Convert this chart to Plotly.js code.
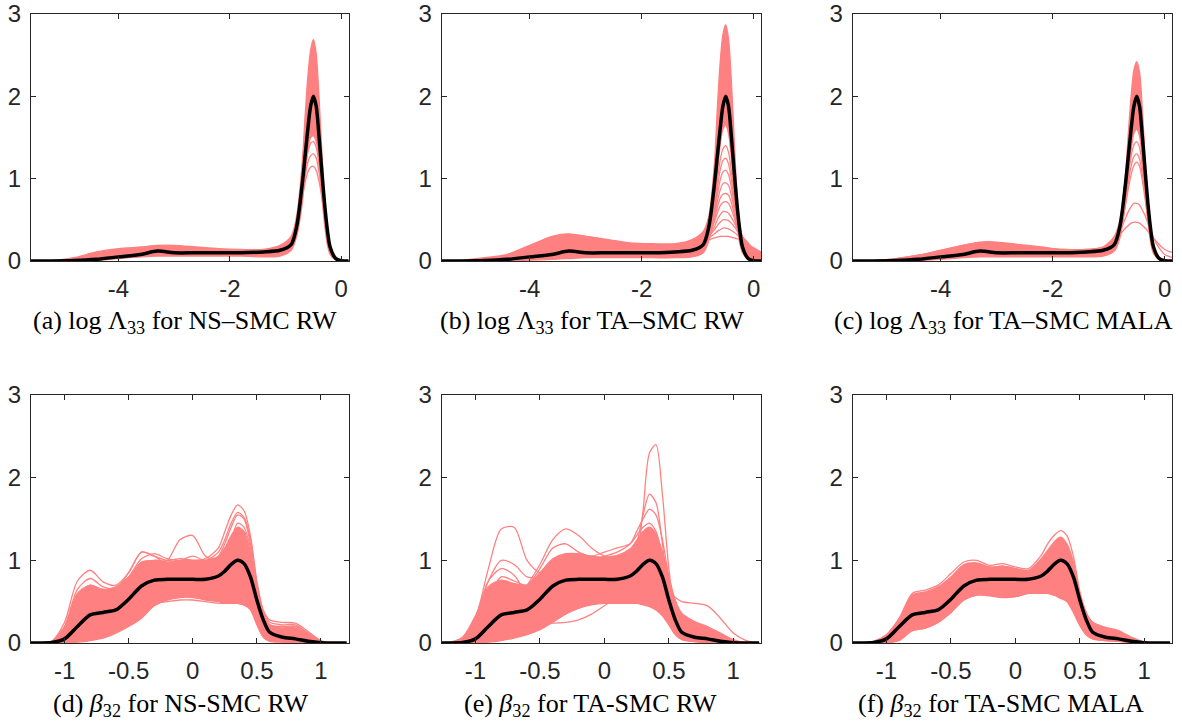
<!DOCTYPE html>
<html>
<head>
<meta charset="utf-8">
<script src="https://cdn.plot.ly/plotly-3.0.1.min.js"></script>
<style>html,body{margin:0;padding:0;background:#fff;}#chart{width:1182px;height:724px;}</style>
</head>
<body>
<div id="chart"></div>
<script>
// ---------- grids ----------
const gridLogLam = [-5.6,-5.2,-4.8,-4.4,-4.0,-3.6,-3.3,-3.0,-2.6,-2.2,-1.8,-1.4,-1.1,-0.9,-0.8,-0.7,-0.65,-0.6,-0.55,-0.5,-0.45,-0.4,-0.35,-0.3,-0.25,-0.2,-0.1,0,0.15];
const gridBeta = [-1.3,-1.2,-1.1,-1.0,-0.9,-0.8,-0.7,-0.6,-0.5,-0.4,-0.3,-0.2,-0.1,0,0.1,0.2,0.25,0.3,0.35,0.4,0.45,0.5,0.55,0.6,0.7,0.8,0.9,1.0,1.1,1.2];

// ---------- reference (black) densities ----------
const truthLogLam = [0,0,0.005,0.02,0.05,0.08,0.12,0.1,0.1,0.1,0.1,0.11,0.13,0.2,0.42,0.94,1.27,1.6,1.88,2.0,1.88,1.52,1.1,0.7,0.38,0.17,0.03,0.003,0];
const truthBeta = [0,0,0.005,0.05,0.2,0.34,0.37,0.40,0.53,0.69,0.76,0.77,0.77,0.77,0.77,0.81,0.87,0.95,1.0,0.96,0.8,0.52,0.28,0.13,0.07,0.05,0.02,0.003,0,0];

// ---------- (a) NS-SMC RW, log Lambda33 ----------
const aLow = [0,0,0,0.005,0.03,0.05,0.06,0.06,0.06,0.06,0.06,0.05,0.06,0.13,0.3,0.7,1.05,1.35,1.5,1.52,1.45,1.2,0.8,0.45,0.2,0.08,0.01,0,0];
const aHigh = [0,0.005,0.04,0.11,0.15,0.17,0.19,0.19,0.17,0.15,0.14,0.14,0.19,0.3,0.55,1.2,1.75,2.24,2.56,2.69,2.52,2.0,1.35,0.78,0.42,0.19,0.05,0.01,0];
const aRun1 = [0,0,0.01,0.03,0.06,0.1,0.13,0.14,0.13,0.12,0.12,0.12,0.16,0.28,0.5,0.78,0.95,1.08,1.14,1.15,1.1,0.97,0.78,0.55,0.33,0.17,0.04,0.01,0];
const aRun2 = [0,0,0.01,0.03,0.06,0.1,0.12,0.13,0.12,0.12,0.12,0.12,0.15,0.25,0.45,0.8,1.02,1.2,1.28,1.3,1.25,1.08,0.85,0.58,0.33,0.16,0.03,0.005,0];
const aRun3 = [0,0,0.01,0.03,0.06,0.1,0.12,0.13,0.12,0.12,0.12,0.12,0.15,0.24,0.42,0.82,1.1,1.32,1.43,1.45,1.38,1.18,0.9,0.6,0.34,0.16,0.03,0.005,0];

// ---------- (b) TA-SMC RW, log Lambda33 ----------
const bLow = [0,0,0,0,0.01,0.02,0.03,0.04,0.04,0.04,0.04,0.04,0.05,0.1,0.25,0.65,1.05,1.4,1.6,1.65,1.55,1.25,0.8,0.45,0.22,0.1,0.02,0.005,0];
const bHigh = [0,0.01,0.04,0.08,0.19,0.3,0.33,0.3,0.26,0.22,0.21,0.21,0.26,0.36,0.55,1.2,1.85,2.4,2.75,2.87,2.7,2.2,1.5,0.85,0.45,0.3,0.22,0.15,0.1];
const bRun1 = [0,0.005,0.03,0.07,0.17,0.28,0.32,0.3,0.25,0.21,0.2,0.2,0.22,0.24,0.26,0.28,0.29,0.3,0.3,0.3,0.3,0.29,0.28,0.27,0.26,0.24,0.2,0.16,0.1];
const bRun2 = [0,0.005,0.03,0.06,0.15,0.25,0.29,0.28,0.24,0.2,0.19,0.19,0.21,0.24,0.28,0.33,0.36,0.38,0.4,0.4,0.39,0.37,0.35,0.32,0.29,0.25,0.19,0.14,0.08];
const bRun3 = [0,0.004,0.025,0.05,0.13,0.22,0.26,0.25,0.22,0.19,0.18,0.18,0.2,0.24,0.3,0.38,0.43,0.47,0.5,0.5,0.49,0.46,0.42,0.37,0.32,0.26,0.18,0.12,0.06];
const bRun4 = [0,0.003,0.02,0.045,0.12,0.2,0.23,0.22,0.2,0.17,0.16,0.16,0.18,0.22,0.3,0.42,0.5,0.56,0.6,0.6,0.58,0.53,0.47,0.4,0.32,0.25,0.16,0.1,0.05];
const bRun5 = [0,0.003,0.02,0.04,0.1,0.17,0.2,0.2,0.18,0.16,0.15,0.15,0.17,0.21,0.3,0.48,0.58,0.67,0.71,0.72,0.7,0.63,0.53,0.42,0.32,0.23,0.13,0.07,0.03];
const bRun6 = [0,0.002,0.015,0.035,0.09,0.15,0.18,0.17,0.16,0.14,0.13,0.13,0.15,0.2,0.3,0.55,0.72,0.86,0.94,0.95,0.92,0.8,0.64,0.47,0.32,0.2,0.09,0.04,0.02];
const bRun7 = [0,0.002,0.012,0.03,0.08,0.13,0.16,0.16,0.15,0.13,0.12,0.12,0.14,0.19,0.3,0.58,0.8,0.98,1.08,1.1,1.05,0.9,0.7,0.5,0.32,0.19,0.07,0.03,0.01];
const bRun8 = [0,0.002,0.01,0.03,0.07,0.12,0.15,0.15,0.14,0.12,0.11,0.11,0.13,0.18,0.3,0.62,0.88,1.1,1.22,1.25,1.18,1.0,0.75,0.52,0.32,0.18,0.06,0.02,0.01];
const bRun9 = [0,0.002,0.01,0.03,0.07,0.11,0.14,0.14,0.13,0.11,0.1,0.1,0.12,0.17,0.3,0.66,0.96,1.22,1.36,1.4,1.32,1.1,0.8,0.53,0.31,0.17,0.05,0.015,0.005];
const bRun10 = [0,0.002,0.017,0.038,0.095,0.16,0.19,0.18,0.17,0.15,0.14,0.14,0.16,0.2,0.3,0.52,0.65,0.76,0.81,0.82,0.8,0.71,0.58,0.44,0.32,0.21,0.11,0.05,0.02];

// ---------- (c) TA-SMC MALA, log Lambda33 ----------
const cLow = [0,0,0,0.005,0.02,0.04,0.05,0.05,0.05,0.05,0.05,0.05,0.06,0.12,0.28,0.7,1.05,1.35,1.55,1.6,1.52,1.25,0.85,0.48,0.22,0.09,0.015,0.002,0];
const cHigh = [0,0.005,0.03,0.07,0.13,0.19,0.23,0.23,0.2,0.17,0.14,0.14,0.17,0.3,0.5,1.05,1.55,2.0,2.32,2.42,2.3,1.85,1.25,0.72,0.38,0.18,0.05,0.01,0];
const cRun1 = [0,0.005,0.03,0.07,0.13,0.19,0.22,0.22,0.19,0.16,0.14,0.14,0.17,0.25,0.32,0.4,0.43,0.46,0.47,0.47,0.46,0.43,0.4,0.36,0.32,0.28,0.2,0.14,0.1];
const cRun2 = [0,0.004,0.025,0.06,0.12,0.17,0.2,0.2,0.18,0.15,0.13,0.13,0.16,0.25,0.36,0.52,0.6,0.66,0.7,0.7,0.68,0.62,0.55,0.46,0.37,0.28,0.16,0.08,0.04];
const cRun3 = [0,0.003,0.02,0.05,0.1,0.14,0.16,0.16,0.15,0.13,0.12,0.12,0.15,0.24,0.38,0.68,0.88,1.05,1.16,1.2,1.15,0.98,0.75,0.5,0.3,0.16,0.04,0.01,0];
const cRun4 = [0,0.003,0.02,0.05,0.1,0.13,0.15,0.15,0.14,0.12,0.11,0.11,0.14,0.22,0.36,0.7,0.95,1.15,1.27,1.3,1.24,1.05,0.8,0.52,0.3,0.15,0.04,0.01,0];
const cRun5 = [0,0.003,0.02,0.05,0.09,0.12,0.14,0.14,0.13,0.11,0.1,0.1,0.13,0.21,0.35,0.74,1.03,1.27,1.41,1.45,1.38,1.15,0.85,0.54,0.3,0.14,0.03,0.01,0];

// ---------- (d) NS-SMC RW, beta32 ----------
const dLow = [0,0,0,0,0.01,0.03,0.06,0.12,0.2,0.3,0.45,0.52,0.55,0.55,0.52,0.5,0.48,0.48,0.48,0.46,0.4,0.22,0.07,0.02,0.01,0,0,0,0,0];
const dHigh = [0,0,0.02,0.2,0.6,0.7,0.65,0.68,0.8,0.98,1.0,0.98,1.0,1.0,1.0,1.05,1.15,1.3,1.4,1.35,1.1,0.7,0.35,0.22,0.18,0.18,0.1,0.02,0,0];
const dRun1 = [0,0,0.02,0.25,0.75,0.88,0.74,0.7,0.85,1.1,1.05,1.0,1.02,1.0,1.02,1.15,1.35,1.55,1.67,1.6,1.3,0.75,0.4,0.28,0.25,0.24,0.14,0.03,0,0];
const dRun2 = [0,0,0.01,0.1,0.4,0.6,0.6,0.62,0.75,0.95,1.0,1.0,1.25,1.3,1.05,1.0,1.05,1.2,1.3,1.25,1.0,0.6,0.3,0.2,0.2,0.18,0.08,0.01,0,0];
const dRun3 = [0,0,0.01,0.15,0.55,0.7,0.62,0.65,0.85,1.1,1.05,0.95,0.95,0.98,0.95,1.0,1.1,1.25,1.45,1.4,1.15,0.7,0.35,0.22,0.2,0.2,0.1,0.02,0,0];
const dRun4 = [0,0,0,0.01,0.05,0.1,0.15,0.2,0.3,0.42,0.48,0.5,0.52,0.52,0.5,0.48,0.48,0.48,0.48,0.46,0.42,0.3,0.12,0.04,0.01,0,0,0,0,0];
const dRun5 = [0,0,0,0.02,0.1,0.2,0.3,0.4,0.5,0.55,0.6,0.62,0.65,0.62,0.6,0.6,0.62,0.65,0.7,0.68,0.55,0.35,0.15,0.06,0.03,0.02,0.01,0,0,0];
const dRun6 = [0,0,0.01,0.12,0.45,0.6,0.55,0.58,0.72,0.9,0.95,0.93,0.95,0.98,0.97,1.05,1.2,1.4,1.55,1.5,1.2,0.7,0.35,0.2,0.18,0.2,0.12,0.02,0,0];
const dRun7 = [0,0,0.02,0.2,0.65,0.78,0.68,0.66,0.8,1.02,1.08,1.02,1.0,1.05,1.0,1.1,1.25,1.45,1.58,1.52,1.25,0.72,0.38,0.25,0.22,0.22,0.12,0.02,0,0];

// ---------- (e) TA-SMC RW, beta32 ----------
const eLow = [0,0,0,0,0.01,0.03,0.06,0.1,0.16,0.25,0.35,0.42,0.46,0.48,0.48,0.48,0.48,0.46,0.44,0.4,0.33,0.22,0.1,0.04,0.015,0,0,0,0,0];
const eHigh = [0,0.01,0.07,0.33,0.68,0.76,0.72,0.7,0.85,1.02,1.08,1.08,1.05,1.04,1.06,1.14,1.24,1.35,1.4,1.32,1.1,0.8,0.52,0.36,0.26,0.2,0.12,0.04,0.005,0];
const eRun1 = [0,0,0.05,0.3,0.9,1.38,1.4,1.0,0.85,0.9,0.95,0.9,0.85,0.85,0.9,0.95,1.0,1.05,1.1,1.05,0.9,0.6,0.35,0.2,0.08,0.03,0.01,0,0,0];
const eRun2 = [0,0,0.01,0.1,0.3,0.45,0.5,0.55,0.6,0.7,0.75,0.7,0.65,0.65,0.7,0.8,1.0,1.6,2.3,2.4,1.8,0.9,0.35,0.12,0.04,0.01,0,0,0,0];
const eRun3 = [0,0,0.02,0.15,0.45,0.6,0.6,0.62,0.75,0.9,0.95,0.9,0.85,0.85,0.9,1.0,1.2,1.55,1.8,1.7,1.2,0.6,0.25,0.1,0.05,0.02,0,0,0,0];
const eRun4 = [0,0,0.01,0.1,0.35,0.5,0.55,0.7,0.95,1.25,1.38,1.3,1.15,1.05,1.0,1.05,1.1,1.15,1.2,1.15,0.95,0.65,0.4,0.25,0.12,0.05,0.01,0,0,0];
const eRun5 = [0,0,0,0.01,0.03,0.07,0.12,0.18,0.22,0.24,0.25,0.28,0.35,0.45,0.55,0.6,0.62,0.6,0.55,0.5,0.45,0.38,0.3,0.2,0.08,0.03,0.01,0,0,0];
const eRun6 = [0,0,0.01,0.05,0.2,0.35,0.45,0.55,0.65,0.75,0.8,0.8,0.78,0.75,0.75,0.78,0.8,0.82,0.8,0.75,0.7,0.62,0.55,0.5,0.48,0.45,0.3,0.12,0.03,0];
const eRun7 = [0,0,0.03,0.25,0.75,1.0,0.95,0.8,0.8,0.95,1.0,1.0,0.98,0.95,0.95,1.0,1.1,1.2,1.3,1.25,1.05,0.7,0.4,0.25,0.15,0.08,0.02,0,0,0];
const eRun8 = [0,0,0.01,0.06,0.2,0.3,0.35,0.45,0.6,0.8,0.9,0.95,1.0,1.05,1.1,1.2,1.35,1.5,1.62,1.55,1.25,0.8,0.45,0.25,0.12,0.05,0.01,0,0,0];
const eRun9 = [0,0,0.02,0.2,0.55,0.8,0.75,0.7,0.9,1.15,1.2,1.1,1.05,1.1,1.15,1.2,1.3,1.4,1.45,1.35,1.05,0.65,0.35,0.2,0.1,0.05,0.01,0,0,0];
const eRun10 = [0,0,0,0.02,0.06,0.12,0.2,0.3,0.4,0.5,0.55,0.55,0.55,0.58,0.62,0.68,0.72,0.75,0.76,0.74,0.68,0.58,0.45,0.33,0.2,0.12,0.06,0.02,0,0];
const eRun11 = [0,0,0.04,0.3,0.75,0.9,0.82,0.6,0.55,0.6,0.62,0.6,0.58,0.58,0.6,0.65,0.72,0.8,0.85,0.8,0.65,0.42,0.22,0.1,0.04,0.01,0,0,0,0];

// ---------- (f) TA-SMC MALA, beta32 ----------
const fLow = [0,0,0,0,0.03,0.15,0.18,0.25,0.37,0.52,0.58,0.57,0.55,0.56,0.6,0.6,0.6,0.58,0.54,0.5,0.37,0.21,0.1,0.05,0.03,0.02,0,0,0,0];
const fHigh = [0,0,0.02,0.1,0.3,0.58,0.62,0.68,0.8,0.95,0.97,0.92,0.93,0.9,0.88,1.02,1.12,1.22,1.28,1.2,0.98,0.6,0.36,0.25,0.18,0.14,0.06,0.01,0,0];
const fRun1 = [0,0,0.02,0.1,0.3,0.6,0.64,0.7,0.84,0.98,1.0,0.94,0.96,0.92,0.9,1.06,1.2,1.3,1.36,1.3,1.05,0.62,0.37,0.25,0.19,0.15,0.07,0.01,0,0];
const fRun2 = [0,0,0,0.01,0.05,0.15,0.18,0.25,0.37,0.52,0.58,0.58,0.56,0.56,0.6,0.6,0.6,0.58,0.56,0.52,0.4,0.22,0.1,0.05,0.03,0.02,0.01,0,0,0];
const fRun3 = [0,0,0.01,0.06,0.2,0.45,0.5,0.55,0.65,0.8,0.88,0.9,0.93,0.9,0.85,0.9,0.98,1.1,1.2,1.15,0.9,0.5,0.25,0.15,0.12,0.1,0.04,0.01,0,0];

// ---------- ticks & captions ----------
const yTickVals = [0,1,2,3];
const yTickText = ['0','1','2','3'];
const xTickValsLogLam = [-4,-2,0];
const xTickTextLogLam = ['-4','-2','0'];
const xTickValsBeta = [-1,-0.5,0,0.5,1];
const xTickTextBeta = ['-1','-0.5','0','0.5','1'];
const captions = [
  '(a) log Λ<sub>33</sub> for NS–SMC RW',
  '(b) log Λ<sub>33</sub> for TA–SMC RW',
  '(c) log Λ<sub>33</sub> for TA–SMC MALA',
  '(d) <i>β</i><sub>32</sub> for NS-SMC RW',
  '(e) <i>β</i><sub>32</sub> for TA-SMC RW',
  '(f) <i>β</i><sub>32</sub> for TA-SMC MALA'
];

// ---------- build ----------
const RED = '#FF8080';
const traces = [];
function addPanel(k, x, lo, hi, runs, truth) {
  const xa = k === 1 ? 'x' : 'x' + k;
  const ya = k === 1 ? 'y' : 'y' + k;
  const ln = {color: RED, width: 1.3, shape: 'spline', smoothing: 0.8};
  traces.push({x: x, y: lo, xaxis: xa, yaxis: ya, mode: 'lines', line: ln, hoverinfo: 'skip'});
  traces.push({x: x, y: hi, xaxis: xa, yaxis: ya, mode: 'lines', line: ln, fill: 'tonexty', fillcolor: RED, hoverinfo: 'skip'});
  runs.forEach(r => traces.push({x: x, y: r, xaxis: xa, yaxis: ya, mode: 'lines', line: ln, hoverinfo: 'skip'}));
  traces.push({x: x, y: truth, xaxis: xa, yaxis: ya, mode: 'lines', line: {color: '#000', width: 3.5, shape: 'spline', smoothing: 0.8}, hoverinfo: 'skip'});
}
addPanel(1, gridLogLam, aLow, aHigh, [aRun1, aRun2, aRun3], truthLogLam);
addPanel(2, gridLogLam, bLow, bHigh, [bRun1, bRun2, bRun3, bRun4, bRun5, bRun6, bRun7, bRun8, bRun9, bRun10], truthLogLam);
addPanel(3, gridLogLam, cLow, cHigh, [cRun1, cRun2, cRun3, cRun4, cRun5], truthLogLam);
addPanel(4, gridBeta, dLow, dHigh, [dRun1, dRun2, dRun3, dRun4, dRun5, dRun6, dRun7], truthBeta);
addPanel(5, gridBeta, eLow, eHigh, [eRun1, eRun2, eRun3, eRun4, eRun5, eRun6, eRun7, eRun8, eRun9, eRun10, eRun11], truthBeta);
addPanel(6, gridBeta, fLow, fHigh, [fRun1, fRun2, fRun3], truthBeta);

const W = 1182, H = 724;
const colPx = [[31, 348.5], [441.7, 761], [852.7, 1172]];
const rowPx = [[14, 261], [395, 643]];
const tickFont = {family: 'Liberation Sans, Arial, sans-serif', size: 24, color: '#262626'};
const layout = {
  width: W, height: H, margin: {l: 0, r: 0, t: 0, b: 0},
  paper_bgcolor: '#fff', plot_bgcolor: '#fff', showlegend: false,
  annotations: []
};
for (let k = 1; k <= 6; k++) {
  const c = (k - 1) % 3, r = Math.floor((k - 1) / 3);
  const xd = [colPx[c][0] / W, colPx[c][1] / W];
  const yd = [1 - rowPx[r][1] / H, 1 - rowPx[r][0] / H];
  const common = {showline: true, linecolor: '#262626', linewidth: 1, mirror: 'ticks', ticks: 'inside',
    ticklen: 5, tickwidth: 1, tickcolor: '#262626', showgrid: false, zeroline: false, tickfont: tickFont,
    fixedrange: true, tickmode: 'array'};
  layout[k === 1 ? 'xaxis' : 'xaxis' + k] = Object.assign({}, common, {
    domain: xd, anchor: k === 1 ? 'y' : 'y' + k,
    range: r === 0 ? [-5.57, 0.13] : [-1.262, 1.215],
    tickvals: r === 0 ? xTickValsLogLam : xTickValsBeta,
    ticktext: r === 0 ? xTickTextLogLam : xTickTextBeta,
    ticklabelstandoff: 6
  });
  layout[k === 1 ? 'yaxis' : 'yaxis' + k] = Object.assign({}, common, {
    domain: yd, anchor: k === 1 ? 'x' : 'x' + k, range: [0, 3],
    tickvals: yTickVals, ticktext: yTickText, ticklabelstandoff: 4
  });
}
const capLeft = [31, 438, 832, 51, 462, 856];
const capY = [322, 322, 322, 705, 705, 705];
captions.forEach((t, i) => {
  layout.annotations.push({text: t, xref: 'paper', yref: 'paper', x: capLeft[i] / W, y: 1 - capY[i] / H,
    xanchor: 'left', yanchor: 'middle', showarrow: false,
    font: {family: 'Liberation Serif, Times New Roman, serif', size: 26, color: '#000'}});
});
Plotly.newPlot('chart', traces, layout, {staticPlot: true, displayModeBar: false});
</script>
</body>
</html>
